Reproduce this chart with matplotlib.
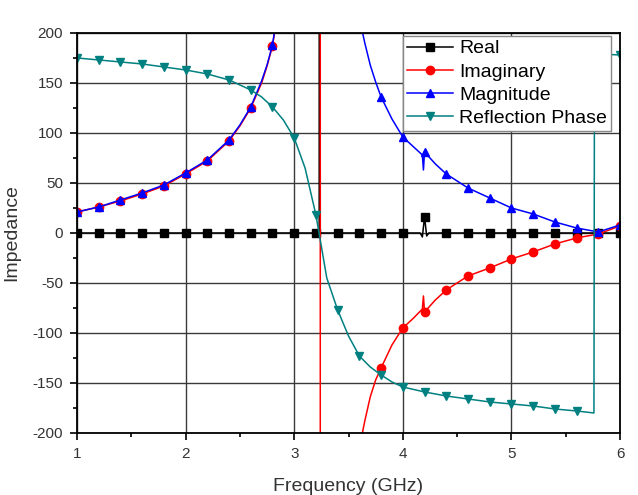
import numpy as np
import matplotlib
matplotlib.use("Agg")
from matplotlib import pyplot as plt
from matplotlib.ticker import MultipleLocator

plt.rcParams['font.family'] = ['Liberation Sans', 'DejaVu Sans']
plt.rcParams['axes.unicode_minus'] = False

# ---------------------------------------------------
# Data (frequency in GHz)
# ---------------------------------------------------
real_freq = [1.0, 1.2, 1.4, 1.6, 1.8, 2.0, 2.2, 2.4, 2.6, 2.8, 3.0, 3.2,
             3.23, 3.235, 3.24, 3.4, 3.6, 3.8, 4.0, 4.16, 4.18, 4.2, 4.22,
             4.24, 4.4, 4.6, 4.8, 5.0, 5.2, 5.4, 5.6, 5.8, 6.0]
real_val = [0, 0, 0, 0, 0, 0, 0, 0, 0, 0, 0, 0,
            0, 3000, 0, 0, 0, 0, 0, 0, -4, 16, -3,
            0, 0, 0, 0, 0, 0, 0, 0, 0, 0]

imag_freq = [1.0, 1.2, 1.4, 1.6, 1.8, 2.0, 2.2, 2.4, 2.5, 2.6, 2.7, 2.75,
             2.8, 2.9, 3.0, 3.1, 3.2, 3.238, 3.242, 3.4, 3.6, 3.65, 3.7,
             3.75, 3.8, 3.9, 4.0, 4.1, 4.18, 4.19, 4.2, 4.3, 4.4, 4.6, 4.8,
             5.0, 5.2, 5.4, 5.6, 5.8, 6.0]
imag_val = [21, 26, 32, 39, 47, 59, 72, 92, 107, 125, 150, 167,
            187, 258, 400, 800, 3000, 8000, -8000, -600, -215, -188, -164,
            -147, -135, -112, -95, -85, -76, -63, -79, -67, -57, -43, -35,
            -26, -19, -11, -5, -1, 7]

mag_freq = [1.0, 1.2, 1.4, 1.6, 1.8, 2.0, 2.2, 2.4, 2.5, 2.6, 2.7, 2.75,
            2.8, 2.9, 3.0, 3.2, 3.24, 3.4, 3.6, 3.65, 3.7, 3.75, 3.8, 3.9,
            4.0, 4.1, 4.18, 4.19, 4.2, 4.3, 4.4, 4.6, 4.8, 5.0, 5.2, 5.4,
            5.6, 5.8, 6.0]
mag_val = [21, 26, 33, 40, 48, 60, 73, 93, 108, 126, 152, 168,
           188, 260, 400, 3000, 8000, 600, 215, 190, 168, 151, 136, 114,
           96, 86, 78, 63, 81, 69, 59, 45, 35, 25, 19, 11,
           5, 1, 8]

phase_freq = [1.0, 1.2, 1.4, 1.6, 1.8, 2.0, 2.2, 2.4, 2.6, 2.7, 2.8, 2.9,
              3.0, 3.1, 3.2, 3.3, 3.4, 3.5, 3.6, 3.7, 3.8, 3.9, 4.0, 4.2,
              4.4, 4.6, 4.8, 5.0, 5.2, 5.4, 5.6, 5.76, 5.765, 5.8, 6.0]
phase_val = [175, 173, 171, 169, 166, 163, 159, 153, 143, 136, 126, 113,
             95, 65, 18, -45, -77, -103, -123, -134, -142, -149, -154, -159,
             -163, -166, -169, -171, -173, -176, -178, -180, 180, 179, 178]

labels = ["Real", "Imaginary", "Magnitude", "Reflection Phase"]
colors = ["black", "#ff0000", "#0000ff", "#008080"]
markers = ["s", "o", "^", "v"]


def marker_idx(freq):
    # markers only on the 0.2 GHz grid
    f = np.array(freq)
    return [i for i, v in enumerate(f) if np.isclose(v * 5, round(v * 5))]


# ---------------------------------------------------
# Plot
# ---------------------------------------------------
fig = plt.figure(figsize=(6.38, 4.95), dpi=100)
ax = fig.add_axes([0.1207, 0.1253, 0.8511, 0.8081])

series = [(real_freq, real_val), (imag_freq, imag_val),
          (mag_freq, mag_val), (phase_freq, phase_val)]
for (f, v), lab, c, m in zip(series, labels, colors, markers):
    ax.plot(f, v, color=c, lw=1.1, marker=m, markersize=6,
            markevery=marker_idx(f), label=lab)

ax.set_xlim(1, 6)
ax.set_ylim(-200, 200)
ax.xaxis.set_major_locator(MultipleLocator(1))
ax.xaxis.set_minor_locator(MultipleLocator(0.5))
ax.yaxis.set_major_locator(MultipleLocator(50))
ax.yaxis.set_minor_locator(MultipleLocator(25))
ax.grid(True, which="major", color="#3a3a3a", lw=1.0)
ax.tick_params(which="major", direction="out", length=5, width=1.2,
               labelsize=11, labelcolor="#333333", pad=5)
ax.tick_params(which="minor", direction="out", length=3, width=1.2)
for s in ax.spines.values():
    s.set_linewidth(1.3)

ax.set_xlabel("Frequency (GHz)", fontsize=14, color="#333333", labelpad=12)
ax.set_ylabel("Impedance", fontsize=14, color="#333333", labelpad=9)

leg = ax.legend(loc="upper right", bbox_to_anchor=(0.983, 0.9925),
                fontsize=14, handlelength=2.4, borderpad=0.2,
                labelspacing=0.28, handletextpad=0.3, borderaxespad=0,
                fancybox=False, framealpha=1, edgecolor="#888888")
leg.get_frame().set_linewidth(1.0)

plt.savefig("out.png", dpi=100)
